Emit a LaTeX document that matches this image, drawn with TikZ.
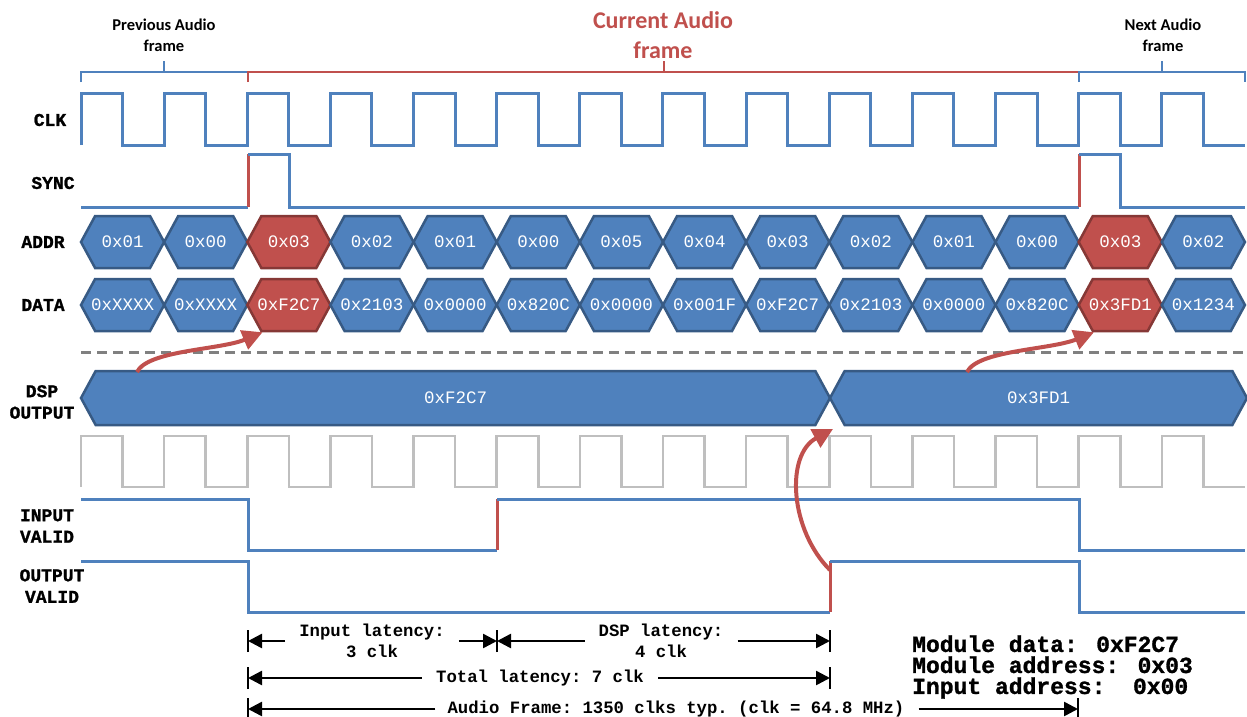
\documentclass[tikz,border=0pt]{standalone}
\usepackage{fontspec}
\newfontfamily\monofont{Liberation Mono}
\newfontfamily\heavymono{Liberation Mono}[BoldFeatures={FakeBold=1.2}]
\newfontfamily\calfont{Carlito}
\usetikzlibrary{shapes.symbols, arrows.meta}

\definecolor{wblue}{HTML}{4F81BD}
\definecolor{wred}{HTML}{C0504D}
\definecolor{clkgray}{HTML}{BFBFBF}
\definecolor{dashgray}{HTML}{808080}

\begin{document}
\begin{tikzpicture}[
    x=1pt, y=-1pt,
    wave/.style={draw=wblue, line width=3pt},
    edge/.style={draw=wred, line width=3pt},
    ghost/.style={draw=clkgray, line width=2.5pt},
    brace/.style={draw=wblue, line width=2.5pt},
    hexa/.style={signal, signal to=west and east, signal pointer angle=123, fill=#1, draw=#1!70!black, line width=2.5pt, minimum width=83.14pt, minimum height=52pt, inner sep=0pt, text=white, font=\monofont\fontsize{17.5}{20}\selectfont},
    hexa/.default=wblue,
    sig/.style={align=center, font=\heavymono\bfseries\fontsize{18}{21.5}\selectfont},
    framelab/.style={align=center, font=\calfont\bfseries\fontsize{16.5}{21}\selectfont},
    dim/.style={-{Triangle[length=14pt, width=14pt]}, line width=2.5pt},
    dimtxt/.style={align=center, inner sep=0pt, font=\monofont\bfseries\frenchspacing\fontsize{17.3}{21}\selectfont},
    hop/.style={-{Triangle[length=20pt, width=20pt]}, line width=4pt, draw=wred}
]
\useasboundingbox (0,0) rectangle (1247,717);

% ==================== Frame braces ====================
\draw[brace] (81,82) -- (81,72) -- (248,72);
\draw[brace] (164,72) -- (164,61);
\draw[brace, draw=wred] (248,82) -- (248,72) -- (1079,72);
\draw[brace, draw=wred] (664,72) -- (664,61);
\draw[brace] (1079,82) -- (1079,72) -- (1245,72) -- (1245,82);
\draw[brace] (1162,72) -- (1162,61);

\node[framelab] (prevframe) at (164,35) {Previous Audio\\frame};
\node[framelab, text=wred, font=\calfont\bfseries\fontsize{24}{30}\selectfont] (curframe) at (663,35) {Current Audio\\frame};
\node[framelab] (nextframe) at (1163,35) {Next Audio\\frame};

% ==================== Signal names ====================
\node[sig] (clk_lab) at (50,120) {CLK};
\node[sig] (sync_lab) at (53,183) {SYNC};
\node[sig] (addr_lab) at (43,242) {ADDR};
\node[sig] (data_lab) at (43,305) {DATA};
\node[sig] (dsp_lab) at (42,402) {DSP\\OUTPUT};
\node[sig] (inv_lab) at (47,526) {INPUT\\VALID};
\node[sig] (outv_lab) at (52,586) {OUTPUT\\VALID};

% ==================== CLK / SYNC ====================
\draw[wave] (81,145) \foreach \i in {1,...,14} { -- ++(0,-52) -- ++(41.57,0) -- ++(0,52) -- ++(41.57,0) };

\draw[wave] (81,207) -- (248,207);
\draw[edge] (248,207) -- (248,154);
\draw[wave] (248,154) -- (289,154) -- (289,207) -- (1079,207);
\draw[edge] (1079,207) -- (1079,154);
\draw[wave] (1079,154) -- (1120,154) -- (1120,207) -- (1245,207);

% ==================== ADDR / DATA ====================
\foreach \v/\c [count=\i from 0] in {0x01/wblue, 0x00/wblue, 0x03/wred, 0x02/wblue, 0x01/wblue, 0x00/wblue, 0x05/wblue, 0x04/wblue, 0x03/wblue, 0x02/wblue, 0x01/wblue, 0x00/wblue, 0x03/wred, 0x02/wblue}
  \node[hexa=\c] (addr\i) at ({122.57+83.14*\i},242) {\makebox[0pt]{\v}};

\foreach \v/\c [count=\i from 0] in {0xXXXX/wblue, 0xXXXX/wblue, 0xF2C7/wred, 0x2103/wblue, 0x0000/wblue, 0x820C/wblue, 0x0000/wblue, 0x001F/wblue, 0xF2C7/wblue, 0x2103/wblue, 0x0000/wblue, 0x820C/wblue, 0x3FD1/wred, 0x1234/wblue}
  \node[hexa=\c] (data\i) at ({122.57+83.14*\i},305) {\makebox[0pt]{\v}};

\draw[dashgray, line width=3pt, dash pattern=on 10pt off 6pt] (81,352) -- (1245,352);

% ==================== DSP output ====================
\node[hexa, minimum width=749pt, minimum height=54pt] (dsp1) at (455.5,398) {\makebox[0pt]{0xF2C7}};
\node[hexa, minimum width=417pt, minimum height=54pt] (dsp2) at (1038.5,398) {\makebox[0pt]{0x3FD1}};

\draw[ghost] (81,487) \foreach \i in {1,...,14} { -- ++(0,-51) -- ++(41.57,0) -- ++(0,51) -- ++(41.57,0) };

% ==================== INPUT / OUTPUT VALID ====================
\draw[wave] (81,499) -- (248,499) -- (248,550) -- (497,550);
\draw[edge] (497,550) -- (497,499);
\draw[wave] (497,499) -- (1079,499) -- (1079,550) -- (1245,550);

\draw[wave] (81,561) -- (248,561) -- (248,612) -- (830,612);
\draw[edge] (830,612) -- (830,561);
\draw[wave] (830,561) -- (1079,561) -- (1079,612) -- (1245,612);

% red hops
\coordinate (hopA) at (137,372);
\coordinate (hopB) at (967,372);
\coordinate (hopC) at (830,570);
\coordinate (notch) at (833,429);
\draw[hop] (hopA) .. controls (148,350) and (220,350) .. (data2.226);
\draw[hop] (hopB) .. controls (978,350) and (1050,350) .. (data12.226);
\draw[hop] (hopC) .. controls (790,530) and (785,455) .. (notch);

% ==================== Latencies ====================
\coordinate (m0) at (248,641);
\coordinate (m1) at (497,641);
\coordinate (m2) at (830,641);
\coordinate (n0) at (248,678);
\coordinate (n2) at (830,678);
\coordinate (f0) at (248,709);
\coordinate (f1) at (1078,709);
\foreach \c in {m0,m1,m2,n0,n2,f0,f1}
  \draw[line width=2.5pt] ([yshift=-11pt]\c) -- ([yshift=11pt]\c);

\node[dimtxt] (lat_in) at (372,641) {Input latency:\\3 clk};
\node[dimtxt] (lat_dsp) at (661,641) {DSP latency:\\4 clk};
\node[dimtxt] (lat_tot) at (540,678) {Total latency: 7 clk};
\node[dimtxt] (frame_len) at (676,709) {Audio Frame: 1350 clks typ. (clk = 64.8 MHz)};

\draw[dim] ([xshift=-14pt]lat_in.west) -- (m0);
\draw[dim] ([xshift=14pt]lat_in.east) -- (m1);
\draw[dim] ([xshift=-14pt]lat_dsp.west) -- (m1);
\draw[dim] ([xshift=14pt]lat_dsp.east) -- (m2);
\draw[dim] ([xshift=-14pt]lat_tot.west) -- (n0);
\draw[dim] ([xshift=14pt]lat_tot.east) -- (n2);
\draw[dim] ([xshift=-12pt]frame_len.west) -- (f0);
\draw[dim] ([xshift=14pt]frame_len.east) -- (f1);

\node[anchor=west, align=left, inner sep=0pt, font=\heavymono\bfseries\fontsize{23}{21}\selectfont] (modinfo) at (912,667) {Module data: 0xF2C7\\Module address: 0x03\\Input address:\ \ 0x00};

\end{tikzpicture}
\end{document}
